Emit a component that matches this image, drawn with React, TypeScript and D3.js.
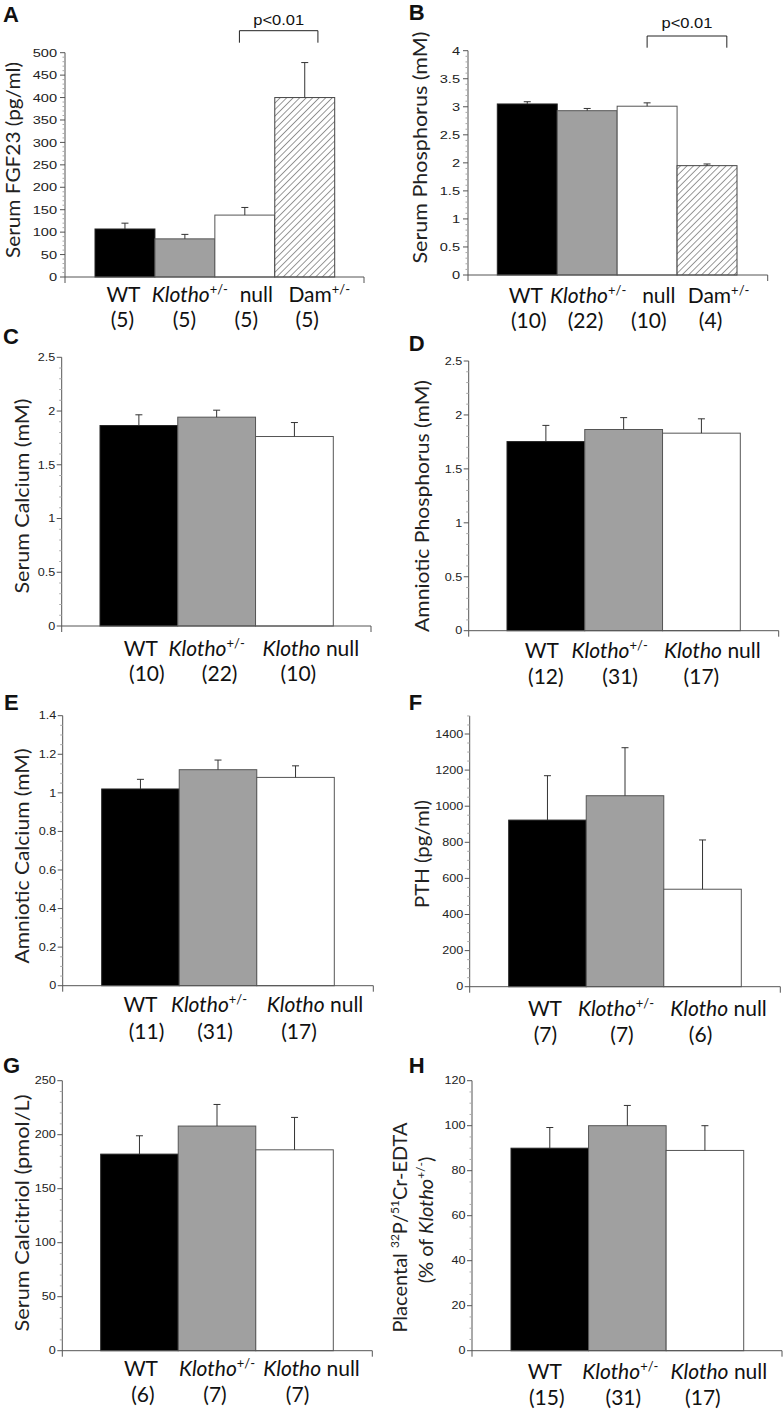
import React from 'react';
import * as d3 from 'd3';

// ---------- DATA ----------
const groups4 = ['WT', 'Klotho+/-', 'null', 'Dam+/-'];
const groups3 = ['WT', 'Klotho+/-', 'Klotho null'];

const fgf23Mean = [107, 85, 138, 400];
const fgf23Sem = [13, 10, 17, 78];
const fgf23N = [5, 5, 5, 5];
const fgf23Ticks = [0, 50, 100, 150, 200, 250, 300, 350, 400, 450, 500];

const serumPMean = [3.05, 2.93, 3.01, 1.95];
const serumPSem = [0.04, 0.04, 0.06, 0.03];
const serumPN = [10, 22, 10, 4];
const serumPTicks = [0, 0.5, 1, 1.5, 2, 2.5, 3, 3.5, 4];

const serumCaMean = [1.865, 1.943, 1.763];
const serumCaSem = [0.10, 0.065, 0.13];
const serumCaN = [10, 22, 10];
const serumCaTicks = [0, 0.5, 1, 1.5, 2, 2.5];

const amnPMean = [1.753, 1.865, 1.831];
const amnPSem = [0.15, 0.11, 0.133];
const amnPN = [12, 31, 17];
const amnPTicks = [0, 0.5, 1, 1.5, 2, 2.5];

const amnCaMean = [1.02, 1.12, 1.08];
const amnCaSem = [0.05, 0.05, 0.06];
const amnCaN = [11, 31, 17];
const amnCaTicks = [0, 0.2, 0.4, 0.6, 0.8, 1, 1.2, 1.4];

const pthMean = [923, 1058, 540];
const pthSem = [246, 266, 273];
const pthN = [7, 7, 6];
const pthTicks = [0, 200, 400, 600, 800, 1000, 1200, 1400];

const calcitriolMean = [182, 208, 186];
const calcitriolSem = [17, 20, 30];
const calcitriolN = [6, 7, 7];
const calcitriolTicks = [0, 50, 100, 150, 200, 250];

const placentaMean = [90, 100, 89];
const placentaSem = [9.2, 9, 11];
const placentaN = [15, 31, 17];
const placentaTicks = [0, 20, 40, 60, 80, 100, 120];

// ---------- STYLE ----------
const FILLS = ['#000000', '#a0a0a0', '#ffffff', 'url(#hatch)'];
const STROKES = ['#222222', '#555555', '#555555', '#444444'];
const AXIS = '#555555';
const LABEL_FONT = 'Lato, "Open Sans", sans-serif';
const TICK_FONT = '"Liberation Sans", Arial, sans-serif';
const LABEL_SIZE = 21;
const TITLE_SIZE = 20;

type Panel = {
  letter: string; letterX: number; letterY: number;
  axisX: number; axisEnd: number; y0: number; yTop: number; topVal: number; axisTopVal: number;
  ticks: number[]; minorStep: number; tickSize: number; tickScale: number; tickGap: number;
  barStart: number; barEnd: number;
  groups: string[]; means: number[]; sems: number[]; ns: number[];
  title: string[]; titleX: number[]; titleCY: number[]; titleLen?: number;
  labelY1: number; labelY2: number; nameDx: number[]; parenDx: number[];
  bracket?: { a: number; fa: number; b: number; fb: number; top: number; bottom: number; textY: number };
};

const panels: Panel[] = [
  {
    letter: 'A', letterX: 3, letterY: 22,
    axisX: 65, axisEnd: 364, y0: 277, yTop: 52.7, topVal: 500, axisTopVal: 500,
    ticks: fgf23Ticks, minorStep: 10, tickSize: 11.5, tickScale: 1.27, tickGap: 8,
    barStart: 95, barEnd: 334.7,
    groups: groups4, means: fgf23Mean, sems: fgf23Sem, ns: fgf23N,
    title: ['Serum FGF23 (pg/ml)'], titleX: [20], titleCY: [160], titleLen: 196,
    labelY1: 302, labelY2: 327, nameDx: [-1.5, 5, 11.5, 14.5], parenDx: [-2.5, -0.5, 1.5, 2.5],
    bracket: { a: 2, fa: 0.41, b: 3, fb: 0.72, top: 30.7, bottom: 42.7, textY: 25 },
  },
  {
    letter: 'B', letterX: 408.7, letterY: 20,
    axisX: 468, axisEnd: 767.7, y0: 275, yTop: 50.7, topVal: 4, axisTopVal: 4,
    ticks: serumPTicks, minorStep: 0.1, tickSize: 11.5, tickScale: 1.27, tickGap: 8,
    barStart: 497.3, barEnd: 737,
    groups: groups4, means: serumPMean, sems: serumPSem, ns: serumPN,
    title: ['Serum Phosphorus (mM)'], titleX: [427], titleCY: [147.5], titleLen: 232,
    labelY1: 303, labelY2: 328, nameDx: [-1.5, 1, 11.7, 11.5], parenDx: [1.5, -1.7, 1.7, 3.5],
    bracket: { a: 2, fa: 0.5, b: 3, fb: 0.83, top: 36, bottom: 47.7, textY: 28 },
  },
  {
    letter: 'C', letterX: 3, letterY: 344,
    axisX: 61.7, axisEnd: 371, y0: 626, yTop: 357.3, topVal: 2.5, axisTopVal: 2.5,
    ticks: serumCaTicks, minorStep: 0.1, tickSize: 10.5, tickScale: 1.2, tickGap: 6.5,
    barStart: 100, barEnd: 333.3,
    groups: groups3, means: serumCaMean, sems: serumCaSem, ns: serumCaN,
    title: ['Serum Calcium (mM)'], titleX: [28.5], titleCY: [496], titleLen: 195,
    labelY1: 656, labelY2: 681, nameDx: [2, -10, 16.5], parenDx: [8, 3, 4],
  },
  {
    letter: 'D', letterX: 408.7, letterY: 351,
    axisX: 468.7, axisEnd: 778.7, y0: 630.7, yTop: 361, topVal: 2.5, axisTopVal: 2.5,
    ticks: amnPTicks, minorStep: 0.1, tickSize: 10.5, tickScale: 1.2, tickGap: 6.5,
    barStart: 507, barEnd: 740.3,
    groups: groups3, means: amnPMean, sems: amnPSem, ns: amnPN,
    title: ['Amniotic Phosphorus (mM)'], titleX: [428.5], titleCY: [506], titleLen: 252,
    labelY1: 658, labelY2: 684, nameDx: [-4, -14, 11], parenDx: [0, -3.5, 0],
  },
  {
    letter: 'E', letterX: 4, letterY: 710,
    axisX: 62.7, axisEnd: 373.3, y0: 985.7, yTop: 715.7, topVal: 1.4, axisTopVal: 1.4,
    ticks: amnCaTicks, minorStep: 0.05, tickSize: 10.5, tickScale: 1.2, tickGap: 6.5,
    barStart: 101.7, barEnd: 334.3,
    groups: groups3, means: amnCaMean, sems: amnCaSem, ns: amnCaN,
    title: ['Amniotic Calcium (mM)'], titleX: [28.5], titleCY: [856], titleLen: 215,
    labelY1: 1012, labelY2: 1039, nameDx: [0, -9, 19.5], parenDx: [6, -3, 3.5],
  },
  {
    letter: 'F', letterX: 408.7, letterY: 710,
    axisX: 469.7, axisEnd: 780.3, y0: 986.7, yTop: 734, topVal: 1400, axisTopVal: 1500,
    ticks: pthTicks, minorStep: 50, tickSize: 10.5, tickScale: 1.2, tickGap: 6.5,
    barStart: 508.7, barEnd: 741.3,
    groups: groups3, means: pthMean, sems: pthSem, ns: pthN,
    title: ['PTH (pg/ml)'], titleX: [428.5], titleCY: [854], titleLen: 108,
    labelY1: 1016, labelY2: 1042, nameDx: [-2.5, -9, 16], parenDx: [-2, -3, -2],
  },
  {
    letter: 'G', letterX: 3, letterY: 1073,
    axisX: 62.3, axisEnd: 372.3, y0: 1350.7, yTop: 1080.7, topVal: 250, axisTopVal: 250,
    ticks: calcitriolTicks, minorStep: 10, tickSize: 10.5, tickScale: 1.2, tickGap: 6.5,
    barStart: 100.7, barEnd: 333.3,
    groups: groups3, means: calcitriolMean, sems: calcitriolSem, ns: calcitriolN,
    title: ['Serum Calcitriol (pmol/L)'], titleX: [28.5], titleCY: [1213], titleLen: 237,
    labelY1: 1376, labelY2: 1402, nameDx: [1.5, 0, 17], parenDx: [3.5, -2, 3],
  },
  {
    letter: 'H', letterX: 408.7, letterY: 1073,
    axisX: 472, axisEnd: 782, y0: 1350.7, yTop: 1080.7, topVal: 120, axisTopVal: 120,
    ticks: placentaTicks, minorStep: 5, tickSize: 10.5, tickScale: 1.2, tickGap: 6.5,
    barStart: 511, barEnd: 743.7,
    groups: groups3, means: placentaMean, sems: placentaSem, ns: placentaN,
    title: ['PLACENTAL', 'PCT'], titleX: [406.5, 432.5], titleCY: [1227.5, 1220],
    labelY1: 1379, labelY2: 1405, nameDx: [-5, -7, 14], parenDx: [-3, -4, -2],
  },
];

const SUP = 8;

function GroupName({ name }: { name: string }) {
  if (name === 'Klotho+/-') {
    return (
      <>
        <tspan fontStyle="italic">Klotho</tspan>
        <tspan fontSize={13} dy={-SUP}>+/-</tspan>
      </>
    );
  }
  if (name === 'Dam+/-') {
    return (
      <>
        <tspan>Dam</tspan>
        <tspan fontSize={13} dy={-SUP}>+/-</tspan>
      </>
    );
  }
  if (name === 'Klotho null') {
    return (
      <>
        <tspan fontStyle="italic">Klotho</tspan>
        <tspan> null</tspan>
      </>
    );
  }
  return <tspan>{name}</tspan>;
}

function Title({ p }: { p: Panel }) {
  if (p.letter === 'H') {
    return (
      <g fontFamily={LABEL_FONT} fill="#222" fontSize={20}>
        <text transform={`translate(${p.titleX[0]},${p.titleCY[0]}) rotate(-90)`} textAnchor="middle">
          <tspan>Placental </tspan>
          <tspan fontSize={12} dy={-SUP}>32</tspan>
          <tspan dy={SUP}>P/</tspan>
          <tspan fontSize={12} dy={-SUP}>51</tspan>
          <tspan dy={SUP}>Cr-EDTA</tspan>
        </text>
        <text transform={`translate(${p.titleX[1]},${p.titleCY[1]}) rotate(-90)`} textAnchor="middle">
          <tspan>(% of </tspan>
          <tspan fontStyle="italic">Klotho</tspan>
          <tspan fontSize={12} dy={-SUP}>+/-</tspan>
          <tspan dy={SUP}>)</tspan>
        </text>
      </g>
    );
  }
  return (
    <text
      transform={`translate(${p.titleX[0]},${p.titleCY[0]}) rotate(-90)`}
      textAnchor="middle"
      fontFamily={LABEL_FONT}
      fontSize={TITLE_SIZE}
      fill="#222"
      textLength={p.titleLen}
      lengthAdjust="spacingAndGlyphs"
    >
      {p.title[0]}
    </text>
  );
}

function PanelChart({ p }: { p: Panel }) {
  const y = d3.scaleLinear().domain([0, p.topVal]).range([p.y0, p.yTop]);
  const x = d3.scaleBand<string>().domain(p.groups).range([p.barStart, p.barEnd]).padding(0);
  const bw = x.bandwidth();
  const fmt = d3.format('~g');
  const minors = d3
    .range(0, p.axisTopVal + p.minorStep / 2, p.minorStep)
    .filter((v) => !p.ticks.some((t) => Math.abs(t - v) < p.minorStep / 10));
  const capHalf = 3.5;

  return (
    <g>
      <text x={p.letterX} y={p.letterY} fontFamily={TICK_FONT} fontWeight="bold" fontSize={22} fill="#111">
        {p.letter}
      </text>
      <Title p={p} />

      {/* bars */}
      {p.groups.map((g, i) => (
        <rect
          key={g}
          x={x(g)}
          y={y(p.means[i])}
          width={bw}
          height={p.y0 - y(p.means[i])}
          fill={FILLS[i]}
          stroke={STROKES[i]}
          strokeWidth={1}
        />
      ))}
      {/* error bars */}
      {p.groups.map((g, i) => {
        const cx = (x(g) as number) + bw / 2;
        const top = y(p.means[i] + p.sems[i]);
        return (
          <g key={'e' + g} stroke="#333" strokeWidth={1}>
            <line x1={cx} x2={cx} y1={y(p.means[i])} y2={top} />
            <line x1={cx - capHalf} x2={cx + capHalf} y1={top} y2={top} />
          </g>
        );
      })}

      {/* y axis */}
      <line x1={p.axisX} x2={p.axisX} y1={p.y0 + 6} y2={y(p.axisTopVal)} stroke={AXIS} strokeWidth={1} />
      {minors.map((v) => (
        <line key={'m' + v} x1={p.axisX - 2.5} x2={p.axisX} y1={y(v)} y2={y(v)} stroke="#aaa" strokeWidth={1} />
      ))}
      {p.ticks.map((t) => (
        <g key={'t' + t}>
          <line x1={p.axisX - 5} x2={p.axisX} y1={y(t)} y2={y(t)} stroke={AXIS} strokeWidth={1} />
          <text
            transform={`translate(${p.axisX - p.tickGap},${y(t)}) scale(${p.tickScale},1)`}
            dy="0.36em"
            textAnchor="end"
            fontFamily={TICK_FONT}
            fontSize={p.tickSize}
            fill="#222"
          >
            {fmt(t)}
          </text>
        </g>
      ))}
      {/* x axis */}
      <line x1={p.axisX} x2={p.axisEnd} y1={p.y0} y2={p.y0} stroke={AXIS} strokeWidth={1} />
      <line x1={p.axisEnd} x2={p.axisEnd} y1={p.y0} y2={p.y0 + 6} stroke={AXIS} strokeWidth={1} />

      {/* category labels */}
      {p.groups.map((g, i) => {
        const cx = (x(g) as number) + bw / 2;
        return (
          <g key={'l' + g} fontFamily={LABEL_FONT} fontSize={LABEL_SIZE} fill="#111">
            <text x={cx + p.nameDx[i]} y={p.labelY1} textAnchor="middle">
              <GroupName name={g} />
            </text>
            <text x={cx + p.parenDx[i]} y={p.labelY2} textAnchor="middle">
              ({p.ns[i]})
            </text>
          </g>
        );
      })}

      {/* significance bracket */}
      {p.bracket && (() => {
        const b = p.bracket!;
        const xa = (x(p.groups[b.a]) as number) + bw * b.fa;
        const xb = (x(p.groups[b.b]) as number) + bw * b.fb;
        return (
          <g>
            <path
              d={`M${xa},${b.bottom}V${b.top}H${xb}V${b.bottom}`}
              fill="none"
              stroke="#222"
              strokeWidth={1}
            />
            <text
              transform={`translate(${(xa + xb) / 2},${b.textY}) scale(1.18,1)`}
              textAnchor="middle"
              fontFamily={TICK_FONT}
              fontSize={14}
              fill="#111"
            >
              p&lt;0.01
            </text>
          </g>
        );
      })()}
    </g>
  );
}

export default function App() {
  return (
    <svg
      width={784}
      height={1412}
      viewBox="0 0 784 1412"
      style={{ position: 'absolute', left: 0, top: 0, background: '#fff' }}
    >
      <defs>
        <pattern id="hatch" patternUnits="userSpaceOnUse" width={4.6} height={4.6} patternTransform="rotate(45)">
          <rect width={4.6} height={4.6} fill="#fff" />
          <line x1={0} y1={0} x2={0} y2={4.6} stroke="#333" strokeWidth={1} />
        </pattern>
      </defs>
      <rect width={784} height={1412} fill="#fff" />
      {panels.map((p) => (
        <PanelChart key={p.letter} p={p} />
      ))}
    </svg>
  );
}
